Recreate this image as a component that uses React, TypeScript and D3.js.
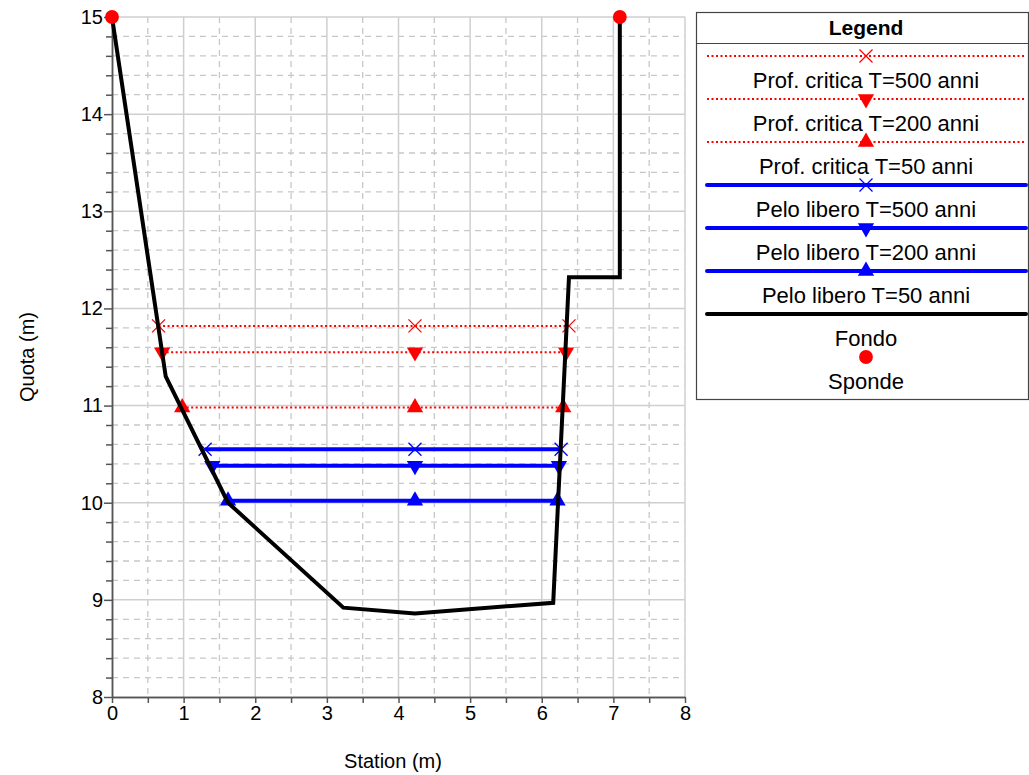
import { useCallback, useEffect, useRef } from 'react';

import { axisBottom, axisLeft, format, line, range, scaleLinear, select, symbol, symbolCircle, symbolTriangle } from 'd3';

// channel cross-section (Fondo)
const stations = [0, 0.75, 1.62, 3.23, 4.23, 6.16, 6.38, 7.09, 7.09];
const elevations = [15, 11.3, 10.0, 8.92, 8.86, 8.97, 12.32, 12.32, 15];

// banks (Sponde)
const bankStations = [0, 7.09];
const bankElevations = [15, 15];

// water levels
const levelNames = [
  'Prof. critica T=500 anni',
  'Prof. critica T=200 anni',
  'Prof. critica T=50 anni',
  'Pelo libero T=500 anni',
  'Pelo libero T=200 anni',
  'Pelo libero T=50 anni',
];
const levelElevations = [11.82, 11.55, 10.98, 10.55, 10.38, 10.02];
const levelLeft = [0.65, 0.7, 0.98, 1.3, 1.4, 1.62];
const levelMid = [4.23, 4.23, 4.23, 4.23, 4.23, 4.23];
const levelRight = [6.38, 6.34, 6.3, 6.27, 6.24, 6.22];
const levelMarkers = ['x', 'down', 'up', 'x', 'down', 'up'];

const xTicks = [0, 1, 2, 3, 4, 5, 6, 7, 8];
const yTicks = [8, 9, 10, 11, 12, 13, 14, 15];

const FONT = '"Liberation Sans", Arial, Helvetica, sans-serif';

export default function App() {
  const containerRef = useRef<HTMLDivElement>(null);

  const initChart = useCallback(() => {
    const container = containerRef.current;
    if (!container) return;

    const W = 1029,
      H = 775;
    const plot = { left: 112, right: 685, top: 17, bottom: 697 };

    const div = select(container);
    div.select('svg').remove();

    const svg = div
      .append('svg')
      .attr('width', W)
      .attr('height', H)
      .style('position', 'absolute')
      .style('left', 0)
      .style('top', 0)
      .style('background', '#fff');

    const x = scaleLinear().domain([0, 8]).range([plot.left, plot.right]);
    const y = scaleLinear().domain([8, 15]).range([plot.bottom, plot.top]);

    const minorY = range(8.2, 15, 0.2).filter((d) => Math.abs(d - Math.round(d)) > 0.01);
    const minorX = range(0.5, 8, 1);

    // grid
    const grid = svg.append('g').attr('class', 'grid');
    grid
      .selectAll('line.minor-x')
      .data(minorX)
      .join('line')
      .attr('x1', (d) => x(d))
      .attr('x2', (d) => x(d))
      .attr('y1', plot.top)
      .attr('y2', plot.bottom)
      .attr('stroke', '#c8c8c8')
      .attr('stroke-width', 1.3)
      .attr('stroke-dasharray', '6,5');
    grid
      .selectAll('line.minor-y')
      .data(minorY)
      .join('line')
      .attr('x1', plot.left)
      .attr('x2', plot.right)
      .attr('y1', (d) => y(d))
      .attr('y2', (d) => y(d))
      .attr('stroke', '#c8c8c8')
      .attr('stroke-width', 1.3)
      .attr('stroke-dasharray', '6,5');
    grid
      .selectAll('line.major-x')
      .data(xTicks.slice(1))
      .join('line')
      .attr('x1', (d) => x(d))
      .attr('x2', (d) => x(d))
      .attr('y1', plot.top)
      .attr('y2', plot.bottom)
      .attr('stroke', '#cfcfcf')
      .attr('stroke-width', 1.5);
    grid
      .selectAll('line.major-y')
      .data(yTicks.slice(1))
      .join('line')
      .attr('x1', plot.left)
      .attr('x2', plot.right)
      .attr('y1', (d) => y(d))
      .attr('y2', (d) => y(d))
      .attr('stroke', '#cfcfcf')
      .attr('stroke-width', 1.5);

    // axes
    const styleAxis = (g: any) => {
      g.attr('font-family', FONT).attr('font-size', 20);
      g.select('.domain').attr('stroke', '#555').attr('stroke-width', 1.5);
      g.selectAll('line').attr('stroke', '#555').attr('stroke-width', 1.5);
      g.selectAll('text').attr('fill', '#000');
    };
    svg
      .append('g')
      .attr('transform', `translate(0,${plot.bottom})`)
      .call(axisBottom(x).tickValues(minorX).tickSize(6).tickFormat(() => '').tickSizeOuter(0))
      .call(styleAxis);
    svg
      .append('g')
      .attr('transform', `translate(0,${plot.bottom})`)
      .call(axisBottom(x).tickValues(xTicks).tickSize(6).tickPadding(3).tickFormat(format('d')).tickSizeOuter(0))
      .call(styleAxis);
    svg
      .append('g')
      .attr('transform', `translate(${plot.left},0)`)
      .call(axisLeft(y).tickValues(minorY).tickSize(6).tickFormat(() => '').tickSizeOuter(0))
      .call(styleAxis);
    svg
      .append('g')
      .attr('transform', `translate(${plot.left},0)`)
      .call(axisLeft(y).tickValues(yTicks).tickSize(8).tickPadding(1).tickFormat(format('d')).tickSizeOuter(0))
      .call(styleAxis);

    // axis labels
    svg
      .append('text')
      .attr('x', 393)
      .attr('y', 768)
      .attr('text-anchor', 'middle')
      .attr('font-family', FONT)
      .attr('font-size', 20)
      .text('Station (m)');
    svg
      .append('text')
      .attr('transform', `translate(34,357) rotate(-90)`)
      .attr('text-anchor', 'middle')
      .attr('font-family', FONT)
      .attr('font-size', 20)
      .text('Quota (m)');

    const isCritical = (i: number) => i < 3;
    const levelColor = (i: number) => (isCritical(i) ? '#ff0000' : '#0000ff');

    const drawMarker = (g: any, kind: string, cx: number, cy: number, color: string) => {
      if (kind === 'x') {
        g.append('path')
          .attr('d', 'M-6.5,-6.5L6.5,6.5M-6.5,6.5L6.5,-6.5')
          .attr('transform', `translate(${cx},${cy})`)
          .attr('stroke', color)
          .attr('stroke-width', 1.3)
          .attr('fill', 'none');
      } else if (kind === 'circle') {
        g.append('path')
          .attr('d', symbol(symbolCircle, 150)())
          .attr('transform', `translate(${cx},${cy})`)
          .attr('fill', color);
      } else {
        g.append('path')
          .attr('d', symbol(symbolTriangle, 115)())
          .attr('transform', `translate(${cx},${cy}) rotate(${kind === 'down' ? 180 : 0})`)
          .attr('fill', color);
      }
    };

    // water levels
    const lvl = svg.append('g').attr('class', 'levels');
    const lineGen = line<[number, number]>()
      .x((d) => x(d[0]))
      .y((d) => y(d[1]));
    levelNames.forEach((_, i) => {
      const pts: [number, number][] = [
        [levelLeft[i], levelElevations[i]],
        [levelMid[i], levelElevations[i]],
        [levelRight[i], levelElevations[i]],
      ];
      lvl
        .append('path')
        .attr('d', lineGen(pts))
        .attr('fill', 'none')
        .attr('stroke', levelColor(i))
        .attr('stroke-width', isCritical(i) ? 2 : 4)
        .attr('stroke-dasharray', isCritical(i) ? '2,2.5' : null);
    });

    // ground profile
    svg
      .append('path')
      .attr('d', lineGen(stations.map((s, i) => [s, elevations[i]] as [number, number])))
      .attr('fill', 'none')
      .attr('stroke', '#000')
      .attr('stroke-width', 4)
      .attr('stroke-linejoin', 'miter');

    // level markers
    levelNames.forEach((_, i) => {
      [levelLeft[i], levelMid[i], levelRight[i]].forEach((s) =>
        drawMarker(lvl, levelMarkers[i], x(s), y(levelElevations[i]), levelColor(i)),
      );
    });

    // banks
    bankStations.forEach((s, i) => drawMarker(svg, 'circle', x(s), y(bankElevations[i]), '#ff0000'));

    // legend
    const lg = svg.append('g').attr('class', 'legend');
    const lgLeft = 696,
      lgRight = 1028,
      lgTop = 12,
      lgBottom = 399;
    const cx = 866;
    lg.append('rect')
      .attr('x', lgLeft + 0.5)
      .attr('y', lgTop + 0.5)
      .attr('width', lgRight - lgLeft)
      .attr('height', lgBottom - lgTop)
      .attr('fill', '#fff')
      .attr('stroke', '#444')
      .attr('stroke-width', 1.2);
    lg.append('line')
      .attr('x1', lgLeft)
      .attr('x2', lgRight)
      .attr('y1', 43.5)
      .attr('y2', 43.5)
      .attr('stroke', '#444')
      .attr('stroke-width', 1.2);
    lg.append('text')
      .attr('x', cx)
      .attr('y', 35)
      .attr('text-anchor', 'middle')
      .attr('font-family', FONT)
      .attr('font-weight', 'bold')
      .attr('font-size', 21)
      .text('Legend');

    const labels = [...levelNames, 'Fondo', 'Sponde'];
    labels.forEach((label, i) => {
      const sy = 56 + i * 43;
      if (i < levelNames.length) {
        lg.append('line')
          .attr('x1', 707)
          .attr('x2', 1026)
          .attr('y1', sy)
          .attr('y2', sy)
          .attr('stroke', levelColor(i))
          .attr('stroke-width', isCritical(i) ? 2 : 4)
          .attr('stroke-linecap', isCritical(i) ? 'butt' : 'round')
          .attr('stroke-dasharray', isCritical(i) ? '2,2.5' : null);
        drawMarker(lg, levelMarkers[i], cx, sy, levelColor(i));
      } else if (label === 'Fondo') {
        lg.append('line')
          .attr('x1', 707)
          .attr('x2', 1026)
          .attr('y1', sy)
          .attr('y2', sy)
          .attr('stroke', '#000')
          .attr('stroke-width', 4)
          .attr('stroke-linecap', 'round');
      } else {
        drawMarker(lg, 'circle', cx, sy, '#ff0000');
      }
      lg.append('text')
        .attr('x', cx)
        .attr('y', sy + 32)
        .attr('text-anchor', 'middle')
        .attr('font-family', FONT)
        .attr('font-size', 22)
        .text(label);
    });
  }, []);

  const destroyChart = useCallback(() => {
    const container = containerRef.current;
    if (!container) return;

    select(container).select('svg').remove();
  }, []);

  useEffect(() => {
    initChart();
    return destroyChart;
  }, [destroyChart, initChart]);

  return <div ref={containerRef} />;
}
